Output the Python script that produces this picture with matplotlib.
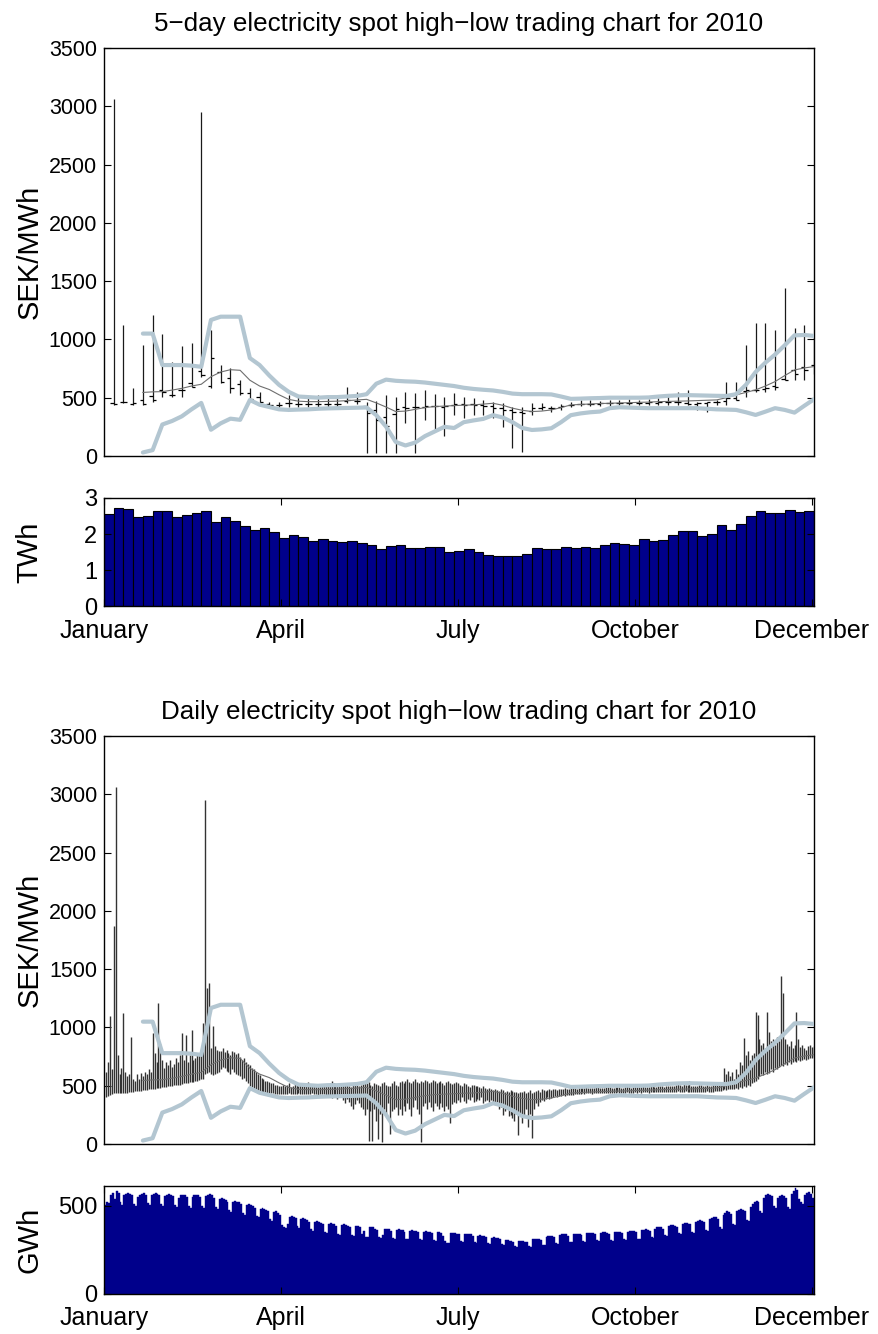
import numpy as np
import matplotlib
matplotlib.use('Agg')
import matplotlib.pyplot as plt

plt.rcParams['font.family'] = ['Liberation Sans', 'DejaVu Sans']

# 5-day periods (73 of them), price in SEK/MWh
high5 = [3060, 1120, 580, 955, 1210, 1050, 810, 945, 965, 2950,
         1080, 780, 755, 650, 580, 550, 466, 466, 525, 525,
         495, 525, 495, 510, 595, 552, 466, 470, 520, 510,
         552, 538, 567, 533, 510, 538, 510, 495, 481, 466,
         452, 424, 424, 452, 452, 425, 450, 465, 480, 480,
         475, 480, 480, 485, 480, 490, 500, 524, 552, 567,
         466, 466, 481, 637, 637, 952, 1138, 1138, 1081, 1440,
         1095, 1124, 1030]
low5 = [440, 455, 438, 440, 466, 510, 510, 510, 595, 680,
        580, 625, 540, 525, 480, 425, 424, 424, 424, 424,
        424, 424, 424, 424, 452, 450, 25, 25, 25, 28,
        281, 28, 309, 210, 167, 352, 324, 352, 352, 324,
        252, 67, 38, 352, 395, 381, 395, 420, 425, 430,
        430, 432, 435, 435, 438, 440, 435, 438, 438, 438,
        395, 381, 438, 438, 481, 510, 552, 552, 567, 652,
        652, 652, 700]
open5 = [455, 462, 445, 478, 517, 567, 524, 567, 624, 733,
         604, 724, 667, 617, 543, 510, 445, 440, 452, 445,
         445, 445, 445, 450, 475, 470, 430, 395, 330, 360,
         424, 420, 420, 425, 420, 440, 450, 445, 440, 430,
         410, 395, 380, 390, 410, 415, 420, 435, 445, 448,
         450, 452, 452, 455, 455, 458, 455, 460, 460, 455,
         450, 455, 460, 470, 500, 560, 567, 575, 600, 660,
         740, 760, 780]
close5 = [450, 460, 452, 450, 481, 552, 524, 567, 590, 696,
          838, 638, 581, 538, 490, 466, 440, 440, 452, 450,
          450, 445, 445, 450, 480, 470, 366, 310, 255, 400,
          410, 418, 425, 425, 430, 450, 440, 440, 430, 410,
          395, 380, 370, 410, 420, 415, 430, 440, 445, 450,
          452, 452, 455, 455, 458, 460, 460, 465, 462, 450,
          455, 460, 465, 500, 481, 565, 567, 580, 590, 650,
          700, 740, 720]

# moving average and bands, defined from period 4 onwards
ma5 = [545, 550, 552, 565, 580, 600, 615, 680, 720, 740,
       735, 650, 600, 570, 525, 485, 470, 466, 466, 468,
       470, 475, 480, 486, 455, 420, 381, 385, 400, 415,
       424, 428, 432, 436, 438, 445, 452, 435, 410, 392,
       381, 385, 395, 415, 438, 442, 446, 450, 452, 455,
       457, 460, 462, 466, 468, 470, 472, 475, 478, 481,
       500, 524, 545, 567, 600, 638, 690, 738, 755, 767]
band_hi = [1050, 1050, 780, 780, 780, 775, 765, 1167, 1195, 1195,
           1195, 840, 780, 690, 610, 550, 510, 505, 500, 505,
           505, 510, 515, 530, 620, 655, 645, 640, 637, 630,
           620, 610, 600, 585, 575, 568, 562, 550, 535, 530,
           530, 530, 528, 510, 490, 492, 495, 497, 500, 500,
           500, 500, 502, 510, 516, 520, 522, 520, 518, 516,
           515, 530, 610, 720, 800, 870, 950, 1035, 1038, 1030]
band_lo = [30, 50, 270, 300, 340, 400, 455, 225, 280, 320,
           310, 480, 440, 420, 400, 395, 398, 400, 405, 408,
           410, 412, 414, 416, 350, 252, 120, 90, 115, 170,
           210, 250, 240, 290, 305, 318, 350, 330, 290, 240,
           223, 228, 238, 290, 350, 365, 375, 381, 410, 418,
           415, 412, 410, 410, 410, 410, 410, 410, 405, 400,
           398, 395, 375, 352, 380, 410, 395, 372, 430, 486]

# 5-day consumption, TWh
twh5 = [2.55, 2.72, 2.70, 2.46, 2.50, 2.65, 2.63, 2.46, 2.54, 2.59,
        2.64, 2.34, 2.46, 2.36, 2.22, 2.12, 2.18, 2.05, 1.88, 1.97,
        1.91, 1.80, 1.86, 1.81, 1.77, 1.80, 1.75, 1.69, 1.58, 1.66,
        1.70, 1.62, 1.61, 1.63, 1.64, 1.49, 1.54, 1.59, 1.49, 1.41,
        1.40, 1.40, 1.39, 1.44, 1.60, 1.57, 1.58, 1.64, 1.62, 1.64,
        1.62, 1.70, 1.75, 1.72, 1.69, 1.86, 1.81, 1.84, 1.97, 2.08,
        2.07, 1.94, 2.01, 2.24, 2.11, 2.27, 2.49, 2.64, 2.59, 2.58,
        2.67, 2.60, 2.65]

# daily high / low prices, SEK/MWh, month by month
hi_jan = [620, 700, 1100, 640, 1870, 3060, 760, 600, 650, 1120,
          620, 580, 600, 920, 560, 540, 600, 560, 610, 580,
          620, 600, 640, 620, 950, 780, 700, 1210, 860, 720, 650]
lo_jan = [405, 415, 420, 430, 435, 440, 440, 435, 438, 440,
          442, 440, 445, 448, 450, 452, 455, 455, 458, 460,
          462, 465, 468, 470, 472, 475, 478, 480, 485, 488, 490]
hi_feb = [700, 680, 720, 660, 690, 740, 700, 760, 950, 720,
          935, 700, 760, 980, 720, 740, 780, 760, 800, 1035,
          2950, 1335, 1380, 820, 1010, 840, 810, 800]
lo_feb = [490, 495, 500, 500, 505, 510, 505, 510, 515, 520,
          520, 525, 530, 528, 532, 540, 545, 550, 555, 560,
          600, 610, 620, 600, 590, 600, 610, 620]
hi_mar = [800, 820, 790, 810, 780, 760, 800, 790, 770, 780,
          750, 720, 740, 700, 690, 680, 650, 640, 620, 600,
          590, 570, 560, 540, 545, 530, 520, 525, 510, 505, 500]
lo_mar = [640, 660, 650, 630, 620, 600, 640, 620, 600, 590,
          580, 560, 570, 540, 520, 500, 490, 470, 460, 455,
          450, 445, 440, 440, 438, 436, 435, 434, 432, 430, 430]
hi_apr = [500, 510, 495, 505, 520, 490, 500, 515, 505, 495,
          510, 500, 505, 520, 530, 500, 495, 510, 505, 500,
          495, 505, 510, 500, 505, 520, 540, 525, 510, 500]
lo_apr = [430, 428, 432, 430, 435, 432, 430, 428, 432, 435,
          430, 432, 430, 428, 430, 432, 435, 430, 428, 425,
          430, 432, 428, 420, 410, 400, 395, 405, 400, 390]
hi_may = [510, 500, 520, 505, 515, 500, 490, 510, 520, 505,
          495, 510, 525, 540, 520, 530, 510, 500, 520, 515,
          505, 500, 520, 530, 510, 495, 500, 520, 540, 510, 500]
lo_may = [420, 400, 380, 350, 390, 360, 330, 300, 340, 380,
          350, 320, 300, 250, 300, 30, 280, 25, 300, 200,
          40, 260, 20, 300, 250, 350, 90, 280, 300, 320, 250]
hi_jun = [530, 545, 520, 540, 555, 530, 520, 545, 560, 535,
          520, 540, 530, 550, 545, 520, 535, 550, 540, 525,
          530, 545, 520, 510, 530, 540, 525, 515, 520, 530]
lo_jun = [300, 250, 330, 280, 350, 300, 240, 320, 380, 300,
          260, 20, 330, 350, 300, 360, 320, 280, 350, 330,
          300, 350, 320, 280, 330, 300, 177, 340, 360, 350]
hi_jul = [520, 510, 500, 525, 515, 500, 490, 510, 505, 495,
          500, 490, 480, 495, 485, 470, 480, 475, 465, 470,
          460, 455, 470, 460, 450, 455, 445, 460, 455, 450, 445]
lo_jul = [380, 360, 400, 370, 350, 390, 380, 400, 360, 370,
          390, 380, 400, 350, 370, 380, 360, 380, 340, 350,
          360, 300, 320, 250, 280, 300, 240, 250, 220, 200, 260]
hi_aug = [440, 450, 445, 455, 440, 450, 460, 435, 445, 455,
          460, 450, 470, 465, 455, 460, 470, 465, 470, 475,
          460, 470, 475, 470, 480, 475, 470, 480, 485, 480, 475]
lo_aug = [77, 250, 180, 230, 300, 150, 260, 48, 300, 350,
          330, 360, 380, 370, 390, 400, 385, 395, 405, 410,
          400, 410, 415, 420, 415, 420, 425, 420, 425, 430, 428]
hi_sep = [480, 485, 478, 482, 490, 485, 480, 478, 482, 486,
          490, 485, 480, 484, 488, 492, 486, 480, 484, 488,
          490, 486, 482, 485, 490, 495, 488, 484, 486, 490]
lo_sep = [430, 432, 435, 430, 436, 438, 434, 432, 436, 438,
          440, 436, 434, 438, 440, 442, 438, 436, 440, 442,
          444, 440, 438, 440, 442, 444, 440, 438, 442, 444]
hi_oct = [490, 488, 492, 495, 490, 486, 490, 494, 498, 492,
          488, 495, 500, 496, 492, 498, 502, 496, 494, 500,
          505, 520, 510, 500, 530, 505, 510, 540, 500, 495, 498]
lo_oct = [442, 444, 440, 446, 448, 444, 442, 446, 448, 444,
          446, 448, 450, 446, 444, 448, 450, 446, 444, 448,
          450, 452, 448, 446, 450, 452, 448, 446, 450, 448, 446]
hi_nov = [500, 505, 510, 498, 502, 508, 495, 500, 505, 510,
          515, 520, 510, 530, 650, 600, 630, 580, 620, 560,
          640, 600, 700, 680, 906, 760, 800, 720, 760, 780]
lo_nov = [446, 448, 450, 445, 448, 452, 446, 448, 450, 452,
          455, 458, 455, 460, 470, 465, 470, 468, 475, 470,
          480, 475, 490, 485, 500, 490, 510, 500, 520, 530]
hi_dec = [1134, 1106, 900, 850, 870, 820, 1134, 960, 880, 900,
          850, 920, 880, 1440, 1293, 900, 860, 840, 880, 820,
          850, 1134, 900, 830, 850, 820, 810, 840, 850, 830, 845]
lo_dec = [540, 560, 580, 600, 590, 620, 600, 610, 640, 620,
          650, 640, 660, 680, 670, 690, 680, 700, 690, 700,
          710, 700, 720, 710, 720, 730, 720, 730, 740, 735, 745]

# daily consumption, GWh
gwh_jan = [505, 520, 515, 560, 575, 540, 585, 575, 520, 505,
           560, 570, 575, 570, 560, 510, 500, 550, 565, 570,
           575, 565, 515, 505, 560, 570, 575, 570, 560, 510, 500]
gwh_feb = [555, 565, 570, 565, 555, 505, 495, 545, 560, 565,
           560, 550, 500, 490, 550, 560, 565, 560, 550, 500,
           490, 555, 565, 570, 560, 545, 495, 485]
gwh_mar = [540, 545, 540, 535, 525, 475, 465, 525, 530, 525,
           520, 510, 460, 450, 505, 510, 505, 500, 490, 445,
           435, 485, 490, 485, 480, 470, 425, 415, 465, 470, 460]
gwh_apr = [450, 390, 380, 375, 395, 440, 445, 440, 430, 385,
           375, 425, 430, 425, 420, 410, 370, 360, 410, 415,
           410, 405, 395, 355, 348, 400, 405, 400, 395, 385]
gwh_may = [340, 335, 390, 395, 390, 385, 378, 335, 330, 385,
           388, 380, 340, 360, 325, 322, 378, 382, 378, 372,
           365, 322, 318, 335, 372, 370, 368, 360, 318, 312, 365]
gwh_jun = [368, 366, 362, 355, 315, 310, 360, 362, 360, 356,
           350, 310, 305, 355, 358, 355, 352, 345, 305, 300,
           350, 352, 348, 330, 300, 290, 292, 345, 348, 345]
gwh_jul = [342, 338, 300, 295, 340, 342, 340, 338, 332, 295,
           290, 332, 335, 332, 330, 325, 290, 285, 320, 322,
           320, 318, 312, 282, 278, 305, 305, 302, 300, 295, 272]
gwh_aug = [268, 300, 302, 300, 298, 295, 270, 268, 310, 312,
           315, 312, 308, 280, 276, 325, 328, 330, 328, 322,
           290, 286, 335, 338, 340, 338, 332, 298, 294, 340, 342]
gwh_sep = [342, 340, 335, 300, 296, 345, 348, 348, 345, 340,
           305, 300, 348, 350, 352, 348, 342, 308, 302, 350,
           352, 355, 352, 345, 310, 305, 355, 358, 360, 356]
gwh_oct = [350, 315, 310, 362, 365, 368, 365, 360, 325, 318,
           372, 378, 380, 378, 372, 335, 328, 385, 390, 392,
           388, 382, 345, 338, 398, 402, 405, 400, 395, 355, 348]
gwh_nov = [410, 415, 418, 415, 408, 365, 358, 425, 432, 438,
           435, 428, 380, 372, 450, 462, 470, 465, 455, 400,
           390, 470, 478, 482, 478, 470, 420, 415, 495, 510]
gwh_dec = [525, 530, 520, 470, 462, 545, 560, 568, 565, 555,
           500, 490, 545, 555, 560, 555, 545, 495, 485, 570,
           585, 600, 590, 540, 520, 510, 560, 575, 580, 570, 545]

month_ticks = [0, 91, 182, 273, 364]
month_labels = ['January', 'April', 'July', 'October', 'December']

hi_day = np.concatenate([hi_jan, hi_feb, hi_mar, hi_apr, hi_may, hi_jun,
                         hi_jul, hi_aug, hi_sep, hi_oct, hi_nov, hi_dec])
lo_day = np.concatenate([lo_jan, lo_feb, lo_mar, lo_apr, lo_may, lo_jun,
                         lo_jul, lo_aug, lo_sep, lo_oct, lo_nov, lo_dec])
gwh_day = np.concatenate([gwh_jan, gwh_feb, gwh_mar, gwh_apr, gwh_may, gwh_jun,
                          gwh_jul, gwh_aug, gwh_sep, gwh_oct, gwh_nov, gwh_dec])

x_day = np.arange(1, len(hi_day) + 1)
x5 = 5 * np.arange(1, len(high5) + 1)
x_band = x5[len(x5) - len(ma5):]

band_color = '#b3c6d1'
bar_color = '#00008b'
fs_tick = 15.5
fs_bar = 17
fs_month = 18
fs_title = 18.7
fs_label = 21


def style_axes(ax, size):
    ax.set_xlim(0, 365)
    ax.tick_params(direction='in', top=True, right=True, length=5,
                   width=0.8, labelsize=size, pad=5)
    for s in ax.spines.values():
        s.set_linewidth(1.0)


def price_panel(ax, title):
    ax.plot(x_band, ma5, color='#6e6e6e', lw=0.8, zorder=3)
    ax.plot(x_band, band_hi, color=band_color, lw=3.0, zorder=4,
            solid_joinstyle='round', solid_capstyle='round')
    ax.plot(x_band, band_lo, color=band_color, lw=3.0, zorder=4,
            solid_joinstyle='round', solid_capstyle='round')
    ax.set_ylim(0, 3500)
    ax.set_yticks(np.arange(0, 3501, 500))
    ax.set_xticks([])
    ax.set_title(title, fontsize=fs_title, pad=12.5)
    ax.set_ylabel('SEK/MWh', fontsize=fs_label)
    ax.yaxis.set_label_coords(-0.085, 0.5)
    style_axes(ax, fs_tick)


def volume_panel(ax, label):
    ax.set_ylabel(label, fontsize=fs_label)
    ax.yaxis.set_label_coords(-0.085, 0.5)
    style_axes(ax, fs_bar)
    ax.set_xticks(month_ticks)
    ax.set_xticklabels(month_labels)
    ax.tick_params(axis='x', pad=9, labelsize=fs_month)


fig = plt.figure(figsize=(8.79, 13.34), dpi=100)
ax1 = fig.add_axes([0.1183, 0.6582, 0.8077, 0.3058])
ax2 = fig.add_axes([0.1183, 0.5457, 0.8077, 0.0810])
ax3 = fig.add_axes([0.1183, 0.1424, 0.8077, 0.3058])
ax4 = fig.add_axes([0.1183, 0.0300, 0.8077, 0.0810])

# 5-day high-low with open (left) and close (right) ticks
ax1.vlines(x5, low5, high5, color='#1a1a1a', lw=0.9, zorder=2)
ax1.hlines(open5, x5 - 1.7, x5, color='k', lw=0.9, zorder=2)
ax1.hlines(close5, x5, x5 + 1.7, color='k', lw=0.9, zorder=2)
price_panel(ax1, '5\u2212day electricity spot high\u2212low trading chart for 2010')

ax2.bar(x5 - 2.5, twh5, width=5, color=bar_color, edgecolor='k', linewidth=0.8)
ax2.set_ylim(0, 3)
ax2.set_yticks([0, 1, 2, 3])
volume_panel(ax2, 'TWh')

# daily high-low
ax3.vlines(x_day, lo_day, hi_day, color='#333333', lw=1.0, zorder=2)
price_panel(ax3, 'Daily electricity spot high\u2212low trading chart for 2010')

ax4.bar(x_day - 0.5, gwh_day, width=1.0, color=bar_color, edgecolor=bar_color,
        linewidth=0.3)
ax4.set_ylim(0, 614)
ax4.set_yticks([0, 500])
volume_panel(ax4, 'GWh')

fig.savefig('out.png', dpi=100)
